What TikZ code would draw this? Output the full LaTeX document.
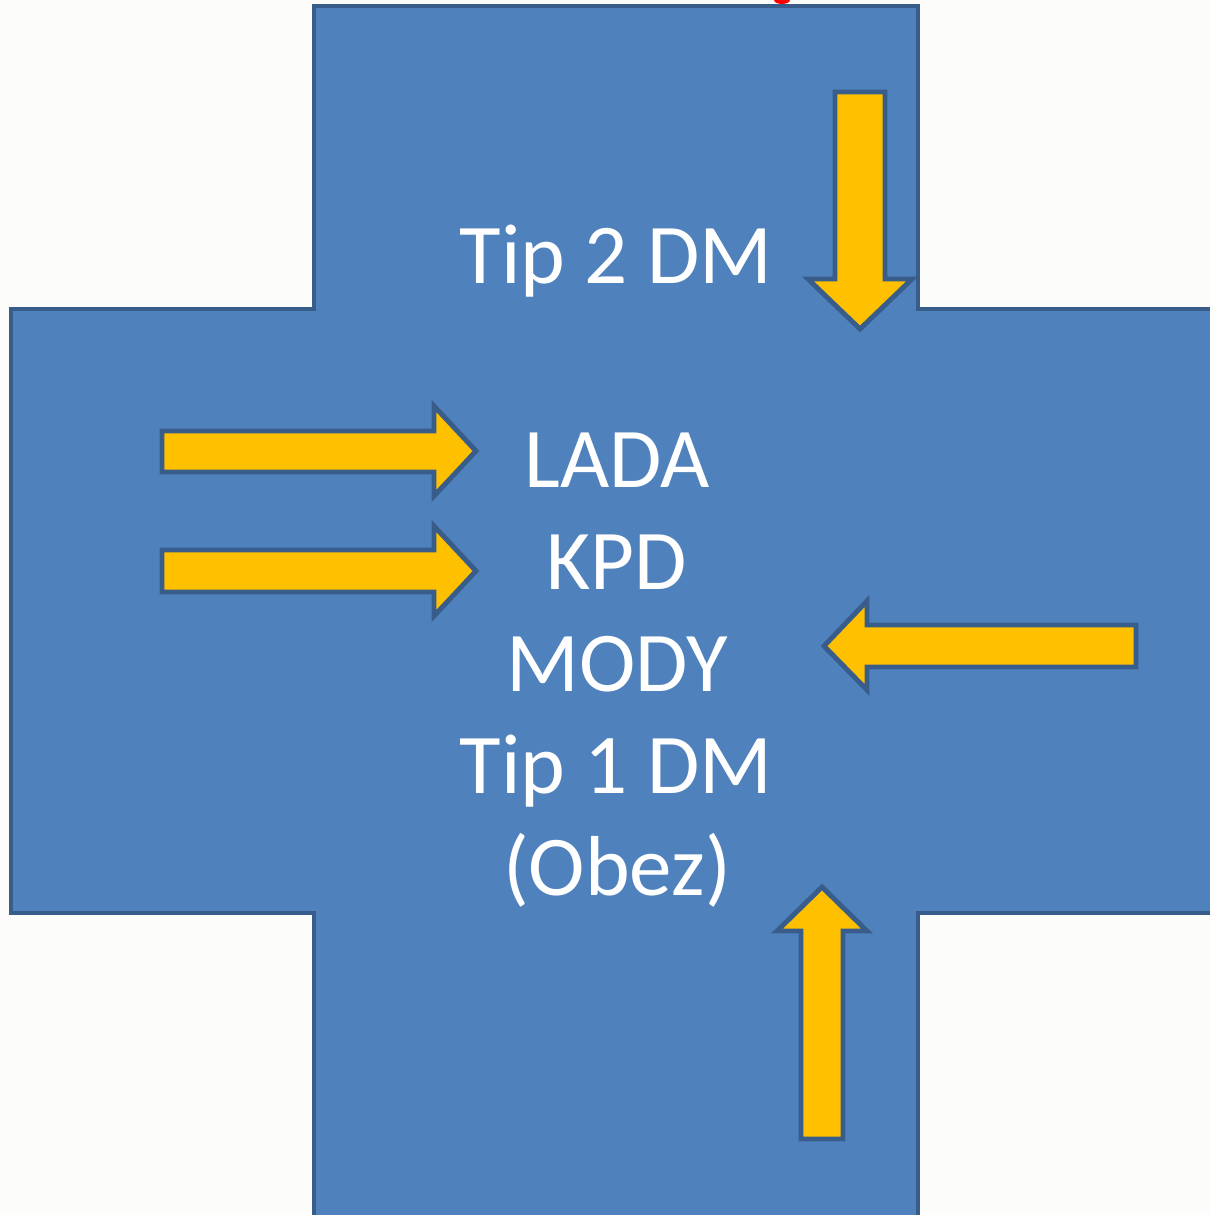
\documentclass[tikz,border=0pt]{standalone}
\usepackage{fontspec}
\setmainfont{Carlito}
\usepackage{tikz}

\definecolor{bgpaper}{HTML}{FCFCFA}
\definecolor{crossfill}{HTML}{4F81BD}
\definecolor{crossline}{HTML}{385D8A}
\definecolor{arrowfill}{HTML}{FFC000}

\tikzset{
  crossshape/.style={fill=crossfill,draw=crossline,line width=1.3pt},
  arrowbox/.style={fill=arrowfill,draw=crossline,line width=1.4pt,line join=miter},
  label/.style={text=white,anchor=base,inner sep=0pt,font=\fontsize{24.2}{29}\selectfont}
}

\begin{document}
\begin{tikzpicture}[x=0.01cm,y=-0.01cm]
\useasboundingbox (0,0) rectangle (1210,1215);
\fill[bgpaper] (0,0) rectangle (1210,1215);
\begin{scope}
\clip (0,0) rectangle (1210,1215);
% cut-off red mark above the cross
\fill[red] (782,0) ellipse [x radius=8, y radius=4];
% the cross
\draw[crossshape] (314,6) -- (918,6) -- (918,309) -- (1225,309) -- (1225,913)
  -- (918,913) -- (918,1225) -- (314,1225) -- (314,913) -- (11,913)
  -- (11,309) -- (314,309) -- cycle;
\end{scope}
% arrows
\draw[arrowbox] (835,92) -- (885,92) -- (885,279) -- (912,279) -- (860,329)
  -- (808,279) -- (835,279) -- cycle;
\draw[arrowbox] (162,431) -- (434,431) -- (434,406) -- (476,451) -- (434,496)
  -- (434,472) -- (162,472) -- cycle;
\draw[arrowbox] (162,550) -- (434,550) -- (434,526) -- (476,571) -- (434,616)
  -- (434,592) -- (162,592) -- cycle;
\draw[arrowbox] (1136,625) -- (867,625) -- (867,601) -- (824,646) -- (867,690)
  -- (867,667) -- (1136,667) -- cycle;
\draw[arrowbox] (801,1139) -- (801,931) -- (777,931) -- (822,887) -- (867,931)
  -- (843,931) -- (843,1139) -- cycle;
% texts
\node[label] (tip2) at (616,283) {Tip 2 DM};
\node[label] (lada) at (617,487) {LADA};
\node[label] (kpd) at (617,589) {KPD};
\node[label] (mody) at (617,691) {MODY};
\node[label] (tip1) at (616,793) {Tip 1 DM};
\node[label] (obez) at (617,895) {(Obez)};
\end{tikzpicture}
\end{document}
